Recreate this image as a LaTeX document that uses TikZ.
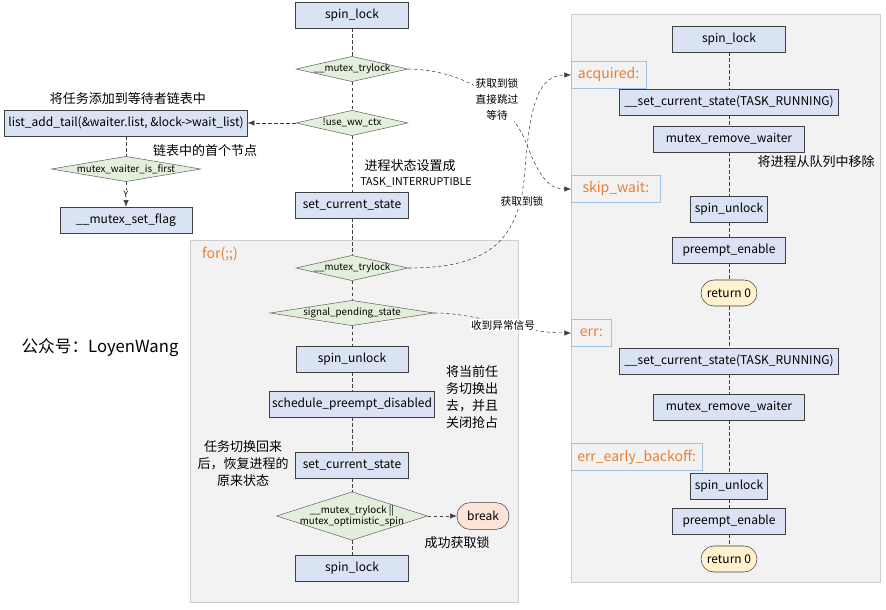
\documentclass[tikz,border=0pt]{standalone}
\usepackage{fontspec}
\setmainfont{Noto Sans CJK SC}
\usetikzlibrary{shapes.geometric,arrows.meta}

\definecolor{boxfill}{RGB}{218,227,243}
\definecolor{condfill}{RGB}{226,239,218}
\definecolor{panelfill}{RGB}{242,242,242}
\definecolor{panelline}{RGB}{205,205,205}
\definecolor{tagline}{RGB}{157,195,230}
\definecolor{tagtext}{RGB}{237,125,49}
\definecolor{breakfill}{RGB}{252,228,214}
\definecolor{retfill}{RGB}{255,242,204}

\begin{document}
\begin{tikzpicture}[x=0.75pt,y=-0.75pt,
  func/.style={draw=black!75, fill=boxfill, minimum height=19.5pt, inner sep=1pt, font=\fontsize{9}{10}\selectfont},
  cond/.style={diamond, aspect=4.4, draw=black!60, fill=condfill, inner xsep=-5pt, inner ysep=0pt, minimum height=19pt, align=center, font=\fontsize{7.3}{8.5}\selectfont},
  term/.style={draw=black!75, rounded corners=9.75pt, minimum height=19.5pt, inner sep=1pt, font=\fontsize{9}{10}\selectfont},
  tag/.style={draw=tagline, fill=panelfill, text=tagtext, anchor=west, minimum height=20pt, inner sep=1pt, font=\fontsize{10.5}{12}\selectfont},
  note/.style={align=center, font=\fontsize{9.75}{12.75}\selectfont},
  small/.style={align=center, fill=white, inner sep=1pt, font=\fontsize{8}{12}\selectfont},
  flow/.style={draw=black!75, dash pattern=on 2.5pt off 2pt},
  arr/.style={flow, -{Latex[length=5pt,width=4pt]}}]
 \useasboundingbox (0,0) rectangle (886,610);
 % loop body and exit paths
 \draw[draw=panelline, fill=panelfill] (190,240) rectangle (518,602);
 \draw[draw=panelline, fill=panelfill] (571,14) rectangle (880,582);
 \node[text=tagtext, font=\fontsize{10.5}{12}\selectfont] at (220,254) {for(;;)};

 % main column
 \node[func, minimum width=85pt] (spinlock) at (352,15) {spin\_lock};
 \node[cond, minimum width=84pt] (trylockA) at (352,69) {\_\_mutex\_trylock};
 \node[cond, minimum width=84pt] (usewwctx) at (352,123) {!use\_ww\_ctx};
 \node[func, minimum width=85pt] (setstate) at (352,205) {set\_current\_state};
 \node[cond, minimum width=84pt] (trylockB) at (352,268) {\_\_mutex\_trylock};
 \node[cond, aspect=6.5, minimum width=123pt] (sigpend) at (352,313) {signal\_pending\_state};
 \node[func, minimum width=84pt] (unlock) at (352,359) {spin\_unlock};
 \node[func, minimum width=124pt] (schedule) at (352,404) {schedule\_preempt\_disabled};
 \node[func, minimum width=85pt] (setstateB) at (352,465) {set\_current\_state};
 \node[cond, aspect=3.1, inner xsep=-8pt, minimum width=113pt, minimum height=36pt] (optspin) at (352,516) {\_\_mutex\_trylock ||\\mutex\_optimistic\_spin};
 \node[func, minimum width=85pt] (spinlockB) at (352,568) {spin\_lock};
 \node[term, fill=breakfill, minimum width=39pt, minimum height=20pt] (breakout) at (483,516) {break};

 % waiter list
 \node[func, minimum width=182pt] (addtail) at (126,123) {list\_add\_tail(\&waiter.list, \&lock->wait\_list)};
 \node[cond, aspect=5.9, minimum width=112pt] (isfirst) at (126,169) {mutex\_waiter\_is\_first};
 \node[func, minimum width=99pt] (setflag) at (126,220) {\_\_mutex\_set\_flag};

 % right column
 \node[func, minimum width=85pt] (rlock) at (729,39) {spin\_lock};
 \node[func, minimum width=164pt] (rrunning) at (729,102) {\_\_set\_current\_state(TASK\_RUNNING)};
 \node[func, minimum width=113pt] (rremove) at (729,139) {mutex\_remove\_waiter};
 \node[func, minimum width=58pt] (runlock) at (729,209) {spin\_unlock};
 \node[func, minimum width=85pt] (renable) at (729,250) {preempt\_enable};
 \node[term, fill=retfill, minimum width=42pt] (rret) at (729,293) {return 0};
 \node[func, minimum width=164pt] (erunning) at (729,361) {\_\_set\_current\_state(TASK\_RUNNING)};
 \node[func, minimum width=113pt] (eremove) at (729,407) {mutex\_remove\_waiter};
 \node[func, minimum width=58pt] (eunlock) at (729,486) {spin\_unlock};
 \node[func, minimum width=85pt] (eenable) at (729,521) {preempt\_enable};
 \node[term, fill=retfill, minimum width=42pt] (eret) at (729,559) {return 0};
 \node[tag, minimum width=56pt] (acquired) at (571,75) {acquired:};
 \node[tag, minimum width=67pt] (skipwait) at (571,189) {skip\_wait:};
 \node[tag, minimum width=30pt] (err) at (571,333) {err:};
 \node[tag, minimum width=98pt] (backoff) at (571,457) {err\_early\_backoff:};

 % notes
 \node[note] at (128,99) {将任务添加到等待者链表中};
 \node[note] at (205,151) {链表中的首个节点};
 \node[note] at (410,166) {进程状态设置成};
 \node[font=\fontsize{8}{10}\selectfont] at (416,182) {TASK\_INTERRUPTIBLE};
 \node[note] at (472,397) {将当前任\\务切换出\\去，并且\\关闭抢占};
 \node[note] at (243,464) {任务切换回来\\后，恢复进程的\\原来状态};
 \node[note] at (457,543) {成功获取锁};
 \node[note] at (816,162) {将进程从队列中移除};
 \node[font=\fontsize{12.5}{14}\selectfont] at (100,348) {公众号：LoyenWang};

 % main flow
 \draw[flow] (spinlock) -- (trylockA);
 \draw[flow] (trylockA) -- (usewwctx);
 \draw[flow] (usewwctx) -- (setstate);
 \draw[flow] (setstate) -- (trylockB);
 \draw[flow] (trylockB) -- (sigpend);
 \draw[flow] (sigpend) -- (unlock);
 \draw[flow] (unlock) -- (schedule);
 \draw[flow] (schedule) -- (setstateB);
 \draw[flow] (setstateB) -- (optspin);
 \draw[flow] (optspin) -- (spinlockB);
 \draw[arr] (optspin.east) -- (breakout.west);
 \draw[arr] (usewwctx.west) -- (addtail.east);
 \draw[flow] (addtail) -- (isfirst);
 \draw[arr] (isfirst) -- node[fill=white, inner sep=1pt, font=\fontsize{6.5}{7}\selectfont] {Y} (setflag);

 % right flow
 \draw[flow] (rlock) -- (rrunning);
 \draw[flow] (rrunning) -- (rremove);
 \draw[flow] (rremove) -- (runlock);
 \draw[flow] (runlock) -- (renable);
 \draw[flow] (renable) -- (rret);
 \draw[flow] (rret) -- (erunning);
 \draw[flow] (erunning) -- (eremove);
 \draw[flow] (eremove) -- (eunlock);
 \draw[flow] (eunlock) -- (eenable);
 \draw[flow] (eenable) -- (eret);

 % jumps
 \draw[arr] (trylockA.east) .. controls (460,70) and (505,95) .. (525,140) .. controls (540,180) and (550,189) .. (skipwait.west);
 \draw[arr] (trylockB.east) .. controls (490,268) and (520,240) .. (525,170) .. controls (530,100) and (540,75) .. (acquired.west);
 \draw[arr] (sigpend.east) .. controls (480,313) and (520,333) .. (err.west);
 \node[small] at (497,99) {获取到锁\\直接跳过\\等待};
 \node[small] at (522,201) {获取到锁};
 \node[small] at (503,325) {收到异常信号};
\end{tikzpicture}
\end{document}
